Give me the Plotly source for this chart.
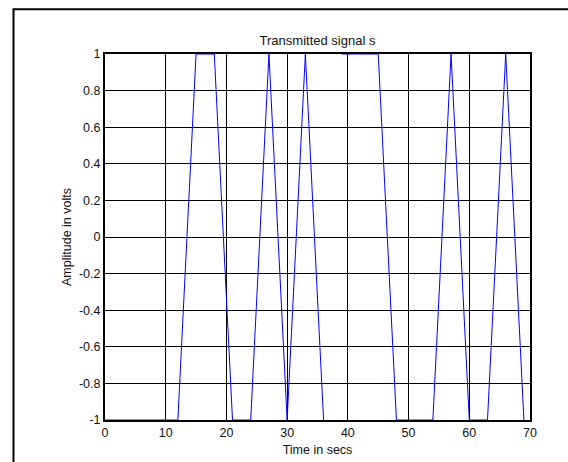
import plotly.graph_objects as go

# Sample instants (s) and transmitted amplitudes (V); None breaks the trace
time_s = [0, 3, 6, 9, 12, 15, 18, 21, 24, 27, 30, 33, 36, None,
          39, 42, 45, 48, 51, 54, 57, 60, 63, 66, 69]
amplitude_v = [-1, -1, -1, -1, -1, 1, 1, -1, -1, 1, -1, 1, -1, None,
               1, 1, 1, -1, -1, -1, 1, -1, -1, 1, -1]

x_ticks = [0, 10, 20, 30, 40, 50, 60, 70]
y_ticks = [-1, -0.8, -0.6, -0.4, -0.2, 0, 0.2, 0.4, 0.6, 0.8, 1]
y_tick_text = ["-1", "-0.8", "-0.6", "-0.4", "-0.2", "0",
               "0.2", "0.4", "0.6", "0.8", "1"]

FONT = "Liberation Sans, Arial, sans-serif"
TXT = "#111111"

fig = go.Figure()
fig.add_trace(go.Scatter(
    x=time_s, y=amplitude_v, mode="lines",
    line=dict(color="#0000ff", width=1),
    connectgaps=False, hoverinfo="skip", showlegend=False,
))

axis_common = dict(
    showgrid=True, gridcolor="#000000", gridwidth=1,
    zeroline=False, showline=True, linecolor="#000000", linewidth=2,
    mirror=True, ticks="", automargin=False,
    tickfont=dict(family=FONT, size=12.5, color=TXT),
)

fig.update_layout(
    width=568, height=462,
    margin=dict(l=105, r=38, t=54, b=42),
    paper_bgcolor="#ffffff", plot_bgcolor="#ffffff",
    font=dict(family=FONT, size=12.5, color=TXT),
    title=dict(text="Transmitted signal s", x=0.5, xanchor="center",
               y=1 - 40 / 462, yanchor="middle",
               xref="paper", font=dict(family=FONT, size=13, color=TXT)),
    xaxis=dict(range=[0, 70], tickvals=x_ticks,
               title=dict(text="Time in secs", standoff=6,
                          font=dict(family=FONT, size=12.5, color=TXT)),
               **axis_common),
    yaxis=dict(range=[-1, 1], tickvals=y_ticks, ticktext=y_tick_text,
               title=dict(text="Amplitude in volts", standoff=5,
                          font=dict(family=FONT, size=12.5, color=TXT)),
               **axis_common),
)

# Outer figure frame (right and bottom edges fall beyond the page)
fig.add_shape(type="rect", xref="paper", yref="paper",
              x0=-0.2153, x1=1.2, y0=-0.2, y1=1.122,
              line=dict(color="#000000", width=2), layer="above")

fig.write_html("out.html")
